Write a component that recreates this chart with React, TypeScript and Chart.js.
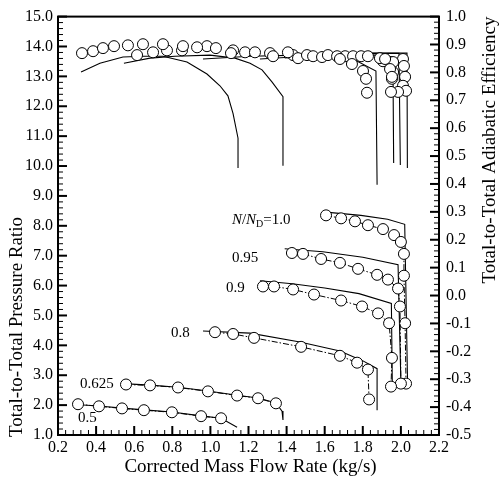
import React, { useEffect, useRef } from "react";
import { Chart, registerables } from "chart.js";

Chart.register(...registerables);

const FONT = '"Liberation Serif", "DejaVu Serif", "Times New Roman", serif';

// ---------- Pressure ratio: test points (circles + dash-dot line) ----------
const prTestMass050 = [0.305, 0.415, 0.536, 0.651, 0.798, 0.951, 1.056];
const prTest050 = [2.03, 1.96, 1.89, 1.83, 1.76, 1.63, 1.56];
const prTestMass0625 = [0.557, 0.683, 0.83, 0.987, 1.14, 1.25, 1.344];
const prTest0625 = [2.69, 2.66, 2.59, 2.46, 2.32, 2.23, 2.06];
const prTestMass080 = [1.024, 1.119, 1.229, 1.476, 1.68, 1.77, 1.827, 1.833];
const prTest080 = [4.44, 4.38, 4.25, 3.95, 3.65, 3.42, 3.19, 2.19];
const prTestMass090 = [1.276, 1.334, 1.434, 1.544, 1.686, 1.796, 1.88, 1.938, 1.953, 1.948];
const prTest090 = [5.97, 5.97, 5.87, 5.7, 5.5, 5.3, 5.07, 4.74, 3.58, 2.62];
const prTestMass095 = [1.428, 1.486, 1.581, 1.68, 1.775, 1.875, 1.932, 1.985, 1.995, 2.0];
const prTest095 = [7.09, 7.06, 6.89, 6.76, 6.56, 6.36, 6.2, 5.9, 5.3, 2.72];
const prTestMass100 = [1.607, 1.686, 1.759, 1.827, 1.906, 1.964, 2.0, 2.016, 2.016, 2.022, 2.027];
const prTest100 = [8.35, 8.25, 8.15, 8.02, 7.89, 7.69, 7.46, 7.06, 6.33, 4.74, 2.72];

// ---------- Pressure ratio: predictions (solid lines) ----------
const prPredMass050 = [0.29, 0.415, 0.536, 0.651, 0.798, 0.951, 1.056, 1.14];
const prPred050 = [2.02, 1.97, 1.9, 1.84, 1.77, 1.64, 1.56, 1.26];
const prPredMass0625 = [0.54, 0.683, 0.83, 0.987, 1.14, 1.25, 1.344, 1.376, 1.381];
const prPred0625 = [2.72, 2.67, 2.6, 2.47, 2.33, 2.24, 2.07, 1.8, 1.5];
const prPredMass080 = [0.961, 1.208, 1.47, 1.68, 1.801, 1.875, 1.875];
const prPred080 = [4.48, 4.41, 4.11, 3.81, 3.48, 3.22, 1.83];
const prPredMass090 = [1.26, 1.43, 1.6, 1.78, 1.95, 1.955];
const prPred090 = [6.16, 6.06, 5.92, 5.73, 5.4, 2.65];
const prPredMass095 = [1.39, 1.59, 1.8, 1.985, 2.0];
const prPred095 = [7.23, 7.13, 6.95, 6.7, 2.75];
const prPredMass100 = [1.62, 1.79, 1.93, 2.02, 2.035];
const prPred100 = [8.45, 8.35, 8.22, 8.05, 2.75];

// ---------- Efficiency: test points (circles) ----------
const effTestMass050 = [0.326, 0.384, 0.436, 0.494, 0.567, 0.646, 0.751, 0.856, 0.93, 1.029, 1.108];
const effTest050 = [0.869, 0.876, 0.887, 0.894, 0.897, 0.901, 0.901, 0.894, 0.89, 0.887, 0.869];
const effTestMass0625 = [0.615, 0.699, 0.772, 0.851, 0.982, 1.119, 1.182, 1.234, 1.313, 1.329, 1.407];
const effTest0625 = [0.862, 0.872, 0.879, 0.879, 0.894, 0.879, 0.872, 0.872, 0.869, 0.858, 0.872];
const effTestMass080 = [1.434, 1.46, 1.507, 1.539, 1.586, 1.617, 1.665, 1.68, 1.743, 1.801, 1.817, 1.822];
const effTest080 = [0.862, 0.851, 0.862, 0.858, 0.855, 0.862, 0.858, 0.848, 0.83, 0.805, 0.777, 0.727];
const effTestMass090 = [1.707, 1.749, 1.791, 1.827, 1.89, 1.917, 1.943, 1.953, 1.948];
const effTest090 = [0.858, 0.858, 0.858, 0.858, 0.851, 0.848, 0.812, 0.784, 0.73];
const effTestMass095 = [1.906, 1.959, 1.959, 1.953, 1.985];
const effTest095 = [0.84, 0.837, 0.801, 0.777, 0.73];
const effTestMass100 = [2.011, 2.016, 2.022, 2.011, 2.027];
const effTest100 = [0.848, 0.823, 0.784, 0.752, 0.734];

// ---------- Efficiency: predictions (solid lines) ----------
const effPredMass050 = [0.321, 0.42, 0.541, 0.646, 0.751, 0.877, 0.982, 1.05, 1.092, 1.119, 1.145, 1.145];
const effPred050 = [0.801, 0.833, 0.855, 0.858, 0.858, 0.837, 0.794, 0.752, 0.716, 0.652, 0.564, 0.457];
const effPredMass0625 = [0.546, 0.683, 0.814, 0.998, 1.129, 1.208, 1.271, 1.323, 1.381, 1.381];
const effPred0625 = [0.833, 0.851, 0.858, 0.862, 0.851, 0.833, 0.809, 0.766, 0.713, 0.465];
const effPredMass080 = [0.961, 1.208, 1.47, 1.68, 1.759, 1.869, 1.875];
const effPred080 = [0.848, 0.858, 0.862, 0.855, 0.844, 0.805, 0.397];
const effPredMass090 = [1.26, 1.5, 1.75, 1.9, 1.958, 1.962];
const effPred090 = [0.848, 0.858, 0.862, 0.862, 0.855, 0.475];
const effPredMass095 = [1.39, 1.6, 1.8, 1.99, 1.997];
const effPred095 = [0.852, 0.864, 0.868, 0.868, 0.468];
const effPredMass100 = [1.6, 1.8, 2.032, 2.034];
const effPred100 = [0.862, 0.869, 0.869, 0.457];

// ---------- Labels ----------
const speedLabels = ["0.95", "0.9", "0.8", "0.625", "0.5"];
const speedLabelAnchors = [
  [1.113, 6.93],
  [1.082, 5.9],
  [0.793, 4.41],
  [0.315, 2.72],
  [0.305, 1.56],
];
const topSpeedAnchor = [1.113, 8.19];
const xTitle = "Corrected Mass Flow Rate (kg/s)";
const yTitle = "Total-to-Total Pressure Ratio";
const y2Title = "Total-to-Total Adiabatic Efficiency";

function pts(xs: number[], ys: number[]) {
  return xs.map((x, i) => ({ x, y: ys[i] }));
}

const solid = (xs: number[], ys: number[], axis: string) => ({
  data: pts(xs, ys),
  yAxisID: axis,
  showLine: true,
  borderColor: "#000",
  borderWidth: 1.1,
  pointRadius: 0,
  fill: false,
  order: 2,
});

const testLine = (xs: number[], ys: number[]) => ({
  data: pts(xs, ys),
  yAxisID: "y",
  showLine: true,
  borderColor: "#000",
  borderWidth: 1,
  borderDash: [6, 2, 1.5, 2],
  pointRadius: 5.5,
  pointBackgroundColor: "#fff",
  pointBorderColor: "#000",
  pointBorderWidth: 1,
  fill: false,
  order: 1,
});

const effPts = (xs: number[], ys: number[]) => ({
  data: pts(xs, ys),
  yAxisID: "y2",
  showLine: false,
  pointRadius: 5.5,
  pointBackgroundColor: "#fff",
  pointBorderColor: "#000",
  pointBorderWidth: 1,
  order: 1,
});

const decorPlugin = {
  id: "decor",
  afterDraw(chart: any) {
    const { ctx, chartArea: a, scales } = chart;
    const xs = scales.x;
    const ys = scales.y;
    const y2 = scales.y2;
    ctx.save();
    ctx.strokeStyle = "#000";
    const seg = (x1: number, y1: number, x2: number, y2p: number, w: number) => {
      ctx.lineWidth = w;
      ctx.beginPath();
      ctx.moveTo(x1, y1);
      ctx.lineTo(x2, y2p);
      ctx.stroke();
    };
    // inward ticks: x axis (bottom)
    for (let i = 0; i <= 50; i++) {
      const v = 0.2 + i * 0.04;
      const p = xs.getPixelForValue(v);
      const major = i % 5 === 0;
      seg(p, a.bottom, p, a.bottom - (major ? 9 : 5), major ? 2 : 1);
    }
    // left axis
    for (let i = 0; i <= 70; i++) {
      const v = 1 + i * 0.2;
      const p = ys.getPixelForValue(v);
      const major = i % 5 === 0;
      seg(a.left, p, a.left + (major ? 9 : 5), p, major ? 2 : 1);
    }
    // right axis
    for (let i = 0; i <= 75; i++) {
      const v = -0.5 + i * 0.02;
      const p = y2.getPixelForValue(v);
      const major = i % 5 === 0;
      seg(a.right, p, a.right - (major ? 9 : 5), p, major ? 2 : 1);
    }
    // frame
    ctx.lineWidth = 2;
    ctx.strokeRect(a.left, a.top, a.right - a.left, a.bottom - a.top);

    // titles
    ctx.fillStyle = "#000";
    ctx.font = `19px ${FONT}`;
    ctx.textAlign = "center";
    ctx.textBaseline = "alphabetic";
    ctx.fillText(xTitle, (a.left + a.right) / 2 + 2, 472);
    ctx.textBaseline = "middle";
    ctx.save();
    ctx.translate(17, 327);
    ctx.rotate(-Math.PI / 2);
    ctx.fillText(yTitle, 0, 0);
    ctx.restore();
    ctx.save();
    ctx.translate(490, 150);
    ctx.rotate(-Math.PI / 2);
    ctx.fillText(y2Title, 0, 0);
    ctx.restore();

    // speed labels
    ctx.textAlign = "left";
    ctx.textBaseline = "middle";
    ctx.font = `15px ${FONT}`;
    speedLabels.forEach((t, i) => {
      const [vx, vy] = speedLabelAnchors[i];
      ctx.fillText(t, xs.getPixelForValue(vx), ys.getPixelForValue(vy));
    });
    // N/N_D=1.0
    let px = xs.getPixelForValue(topSpeedAnchor[0]);
    const py = ys.getPixelForValue(topSpeedAnchor[1]);
    const part = (t: string, font: string, dy = 0) => {
      ctx.font = font;
      ctx.fillText(t, px, py + dy);
      px += ctx.measureText(t).width;
    };
    part("N", `italic 15px ${FONT}`);
    part("/", `15px ${FONT}`);
    part("N", `italic 15px ${FONT}`);
    part("D", `10px ${FONT}`, 4);
    part("=1.0", `15px ${FONT}`);
    ctx.restore();
  },
};

const fmt = (v: any) => {
  const n = Number(v);
  return (Math.abs(n) < 1e-9 ? 0 : n).toFixed(1);
};

export default function App() {
  const ref = useRef<HTMLCanvasElement | null>(null);
  useEffect(() => {
    if (!ref.current) return;
    const tickFont = { family: FONT, size: 16 };
    const chart = new Chart(ref.current, {
      type: "scatter",
      data: {
        datasets: [
          testLine(prTestMass050, prTest050),
          testLine(prTestMass0625, prTest0625),
          testLine(prTestMass080, prTest080),
          testLine(prTestMass090, prTest090),
          testLine(prTestMass095, prTest095),
          testLine(prTestMass100, prTest100),
          effPts(effTestMass050, effTest050),
          effPts(effTestMass0625, effTest0625),
          effPts(effTestMass080, effTest080),
          effPts(effTestMass090, effTest090),
          effPts(effTestMass095, effTest095),
          effPts(effTestMass100, effTest100),
          solid(prPredMass050, prPred050, "y"),
          solid(prPredMass0625, prPred0625, "y"),
          solid(prPredMass080, prPred080, "y"),
          solid(prPredMass090, prPred090, "y"),
          solid(prPredMass095, prPred095, "y"),
          solid(prPredMass100, prPred100, "y"),
          solid(effPredMass050, effPred050, "y2"),
          solid(effPredMass0625, effPred0625, "y2"),
          solid(effPredMass080, effPred080, "y2"),
          solid(effPredMass090, effPred090, "y2"),
          solid(effPredMass095, effPred095, "y2"),
          solid(effPredMass100, effPred100, "y2"),
        ] as any,
      },
      options: {
        animation: false,
        responsive: false,
        maintainAspectRatio: false,
        devicePixelRatio: 1,
        layout: { padding: { top: 12, left: 0, right: 0, bottom: 0 } },
        plugins: { legend: { display: false }, tooltip: { enabled: false } },
        events: [],
        scales: {
          x: {
            type: "linear",
            min: 0.2,
            max: 2.2,
            ticks: { stepSize: 0.2, autoSkip: false, padding: 3, color: "#000", font: tickFont, callback: fmt, maxRotation: 0 },
            grid: { display: false, drawTicks: false },
            border: { display: false },
            afterFit: (s: any) => { s.height = 55; },
          },
          y: {
            type: "linear",
            position: "left",
            min: 1,
            max: 15,
            ticks: { stepSize: 1, autoSkip: false, padding: 5, color: "#000", font: tickFont, callback: fmt },
            grid: { display: false, drawTicks: false },
            border: { display: false },
            afterFit: (s: any) => { s.width = 58; },
          },
          y2: {
            type: "linear",
            position: "right",
            min: -0.5,
            max: 1.0,
            ticks: { stepSize: 0.1, autoSkip: false, padding: 7, color: "#000", font: tickFont, callback: fmt },
            grid: { display: false, drawTicks: false },
            border: { display: false },
            afterFit: (s: any) => { s.width = 60; },
          },
        },
      } as any,
      plugins: [decorPlugin],
    });
    return () => chart.destroy();
  }, []);
  return (
    <div style={{ position: "fixed", left: 0, top: 0, width: 499, height: 490, background: "#fff" }}>
      <canvas ref={ref} width={499} height={490} style={{ display: "block" }} />
    </div>
  );
}
